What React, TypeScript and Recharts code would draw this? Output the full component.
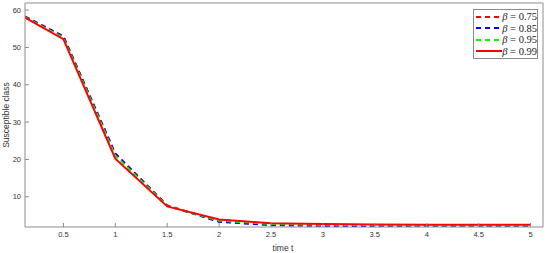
import React from 'react';
import { LineChart, Line, XAxis, YAxis } from 'recharts';

const timeT = [0.13, 0.5, 1, 1.5, 2, 2.5, 3, 3.5, 4, 4.5, 5];
const beta075 = [58.3, 53.0, 21.6, 7.7, 3.4, 2.5, 2.3, 2.2, 2.1, 2.1, 2.0];
const beta085 = [58.2, 52.9, 21.5, 7.6, 3.3, 2.4, 2.2, 2.1, 2.0, 2.0, 2.0];
const beta095 = [58.1, 52.6, 21.0, 7.5, 3.6, 2.7, 2.5, 2.4, 2.3, 2.3, 2.3];
const beta099 = [58.0, 52.2, 20.2, 7.4, 3.9, 2.9, 2.7, 2.6, 2.5, 2.5, 2.5];

const xTicks = [0.5, 1, 1.5, 2, 2.5, 3, 3.5, 4, 4.5, 5];
const yTicks = [10, 20, 30, 40, 50, 60];

const series = [
  { key: 'b075', label: '0.75', values: beta075, color: '#ff0000', dash: '5 4' },
  { key: 'b085', label: '0.85', values: beta085, color: '#0000ff', dash: '5 4' },
  { key: 'b095', label: '0.95', values: beta095, color: '#00ff00', dash: '5 4' },
  { key: 'b099', label: '0.99', values: beta099, color: '#ff0000', dash: undefined as string | undefined },
];

const data = timeT.map((t, i) => {
  const row: Record<string, number> = { t };
  series.forEach((s) => {
    row[s.key] = s.values[i];
  });
  return row;
});

const axisColor = '#8c8c8c';
const tickFont = { fontSize: 7.5, fill: '#333', fontFamily: 'Liberation Sans, Arial, sans-serif' };
const xDomain: [number, number] = [0.13, 5.12];
const yDomain: [number, number] = [1.9, 61.9];

export default function App() {
  return (
    <div style={{ position: 'absolute', left: 0, top: 0, width: 550, height: 253, background: '#fff' }}>
      <LineChart
        width={550}
        height={253}
        data={data}
        margin={{ top: 0, right: 0, bottom: 0, left: 0 }}
      >
        <XAxis
          dataKey="t"
          type="number"
          domain={xDomain}
          allowDataOverflow
          ticks={xTicks}
          tickFormatter={(v: number) => String(v)}
          stroke={axisColor}
          tick={tickFont}
          tickSize={-4}
          tickMargin={9}
          height={26}
          interval={0}
        />
        <XAxis
          xAxisId="top"
          dataKey="t"
          orientation="top"
          type="number"
          domain={xDomain}
          allowDataOverflow
          ticks={xTicks}
          stroke={axisColor}
          tick={false}
          tickSize={-4}
          height={3}
        />
        <YAxis
          type="number"
          domain={yDomain}
          allowDataOverflow
          ticks={yTicks}
          stroke={axisColor}
          tick={tickFont}
          tickSize={-4}
          tickMargin={8}
          width={25}
          interval={0}
        />
        <YAxis
          yAxisId="right"
          orientation="right"
          type="number"
          domain={yDomain}
          allowDataOverflow
          ticks={yTicks}
          stroke={axisColor}
          tick={false}
          tickSize={-4}
          width={7}
        />
        {series.map((s) => (
          <Line
            key={s.key}
            dataKey={s.key}
            type="linear"
            stroke={s.color}
            strokeWidth={2}
            strokeDasharray={s.dash}
            dot={false}
            activeDot={false}
            isAnimationActive={false}
          />
        ))}
      </LineChart>
      <div
        style={{
          position: 'absolute',
          left: 6,
          top: 115,
          transform: 'translate(-50%, -50%) rotate(-90deg)',
          fontFamily: 'Liberation Sans, Arial, sans-serif',
          fontSize: 8.5,
          color: '#333',
          whiteSpace: 'nowrap',
        }}
      >
        Susceptible class
      </div>
      <div
        style={{
          position: 'absolute',
          left: 283,
          top: 248,
          transform: 'translate(-50%, -50%)',
          fontFamily: 'Liberation Sans, Arial, sans-serif',
          fontSize: 8.5,
          color: '#333',
          whiteSpace: 'nowrap',
        }}
      >
        time t
      </div>
      <div
        style={{
          position: 'absolute',
          left: 473,
          top: 9,
          width: 65,
          border: '1px solid #8c8c8c',
          background: '#fff',
          padding: '1px 0',
          boxSizing: 'border-box',
        }}
      >
        {series.map((s) => (
          <div key={s.key} style={{ display: 'flex', alignItems: 'center', height: 11.5 }}>
            <svg width={28} height={8} style={{ marginLeft: 1 }}>
              <line x1={1} y1={4} x2={27} y2={4} stroke={s.color} strokeWidth={2} strokeDasharray={s.dash} />
            </svg>
            <span style={{ fontFamily: 'Liberation Serif, Times New Roman, serif', fontSize: 10.5, color: '#222', whiteSpace: 'nowrap', lineHeight: '11px' }}>
              <i>β</i> = {s.label}
            </span>
          </div>
        ))}
      </div>
    </div>
  );
}
